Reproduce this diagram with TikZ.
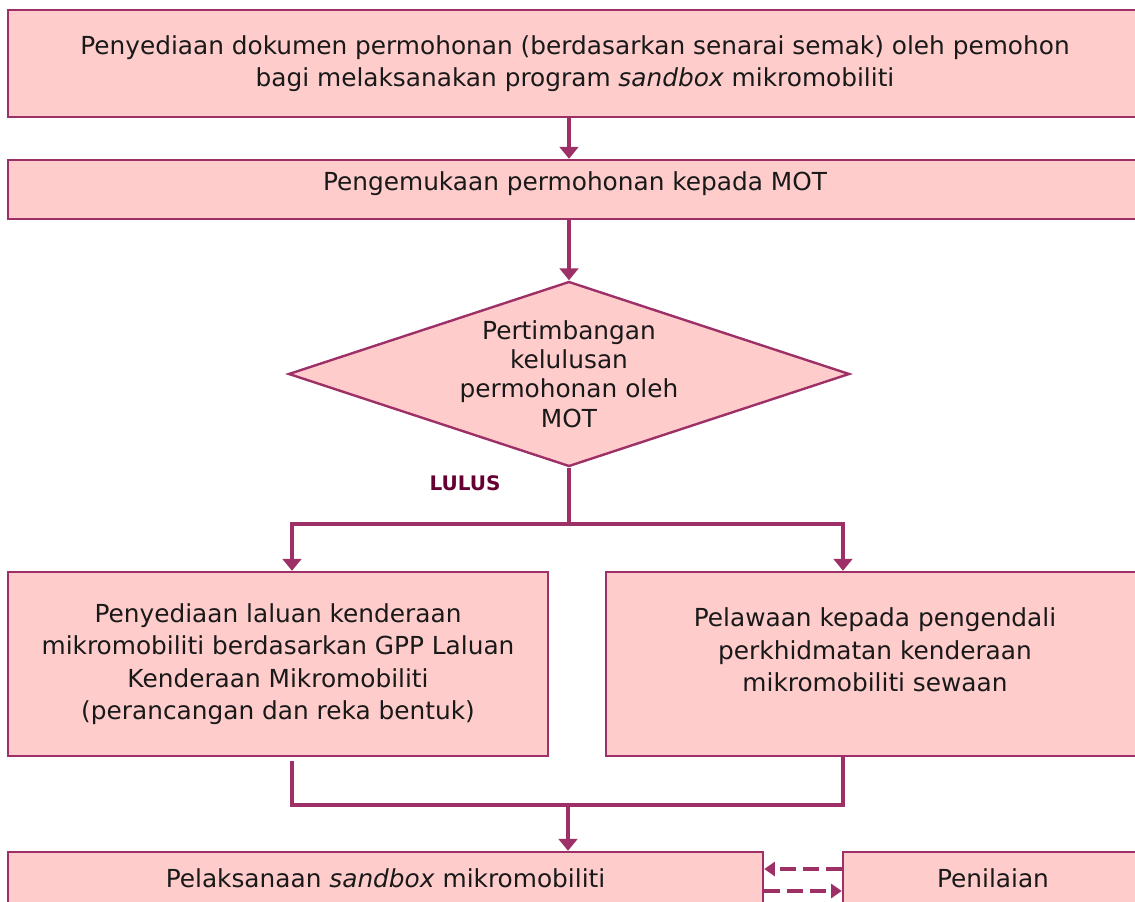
\documentclass[tikz,border=0pt]{standalone}
\usepackage{fontspec}
\setmainfont{DejaVu Sans}
\usetikzlibrary{shapes.geometric, arrows.meta}

\definecolor{plum}{RGB}{158,48,104}
\definecolor{plumDark}{RGB}{102,0,51}
\definecolor{blush}{RGB}{255,204,204}

\begin{document}
\begin{tikzpicture}[
                x=0.75pt, y=-0.75pt,
                % Box Styles
                stepBox/.style = {rectangle, draw=plum, fill=blush, line width=1.8pt, align=center, inner sep=0pt,
                                  text=black!90, font=\fontsize{18.6}{24.4}\selectfont},
                decisionBox/.style = {diamond, draw=plum, fill=blush, line width=1.8pt, inner sep=0pt},
                decisionText/.style = {align=center, text=black!90, font=\fontsize{18.6}{22}\selectfont},
                % Arrow Styles
                flowLine/.style = {-{Triangle[length=9pt, width=14pt]}, line width=2.7pt, draw=plum},
                joinLine/.style = {line width=2.7pt, draw=plum},
                loopLine/.style = {-{Triangle[length=8pt, width=10.5pt]}, line width=2.7pt, draw=plum, dash pattern=on 12pt off 5pt}
            ]
                \clip (0,0) rectangle (1135,902);

                % ==========================================
                % APPLICATION STAGE
                % ==========================================
                \node[stepBox, minimum width=850.5pt, minimum height=80.25pt] (Prep) at (575,63.5)
                    {Penyediaan dokumen permohonan (berdasarkan senarai semak) oleh pemohon \\ bagi melaksanakan program \textit{sandbox} mikromobiliti};
                \node[stepBox, minimum width=850.5pt, minimum height=44.25pt, text depth=12pt] (Submit) at (575,189.5)
                    {Pengemukaan permohonan kepada MOT};

                % ==========================================
                % DECISION
                % ==========================================
                \node[decisionBox, minimum width=420.75pt, minimum height=138.75pt] (Review) at (569,374) {};
                \node[decisionText] (ReviewTxt) at (Review.center)
                    {Pertimbangan \\ kelulusan \\ permohonan oleh \\ MOT};
                \node[plumDark, font=\fontsize{15}{17}\selectfont\bfseries] (Pass) at (465,483) {LULUS};

                % ==========================================
                % PARALLEL TASKS
                % ==========================================
                \node[stepBox, minimum width=405pt, minimum height=138pt] (Route) at (278,664)
                    {Penyediaan laluan kenderaan \\ mikromobiliti berdasarkan GPP Laluan \\ Kenderaan Mikromobiliti \\ (perancangan dan reka bentuk)};
                \node[stepBox, minimum width=403.5pt, minimum height=138pt, text depth=21pt] (Invite) at (875,664)
                    {Pelawaan kepada pengendali \\ perkhidmatan kenderaan \\ mikromobiliti sewaan};

                % ==========================================
                % IMPLEMENTATION
                % ==========================================
                \node[stepBox, minimum width=566.25pt, minimum height=39pt] (Run) at (385.5,878)
                    {Pelaksanaan \textit{sandbox} mikromobiliti};
                \node[stepBox, minimum width=225pt, minimum height=39pt] (Assess) at (993,878)
                    {Penilaian};

                % Junction points
                \coordinate (Split) at (569,524);
                \coordinate (Merge) at (568,805);

                % ==========================================
                % ROUTING LINES
                % ==========================================
                \draw[flowLine] (Prep.south -| Review.north) -- (Submit.north -| Review.north);
                \draw[flowLine] (Submit.south -| Review.north) -- (Review.north);
                \draw[joinLine] (Review.south) -- (Split);
                \draw[flowLine] (Split) -| ([xshift=10.5pt]Route.north);
                \draw[flowLine] (Split) -| ([xshift=-24pt]Invite.north);
                \draw[joinLine] ([xshift=10.5pt, yshift=-3pt]Route.south) |- (Merge) -| ([xshift=-24pt]Invite.south);
                \draw[flowLine] (Merge) -- (Merge |- Run.north);
                \draw[loopLine] ([yshift=6.75pt]Assess.west) -- ([yshift=6.75pt]Run.east);
                \draw[loopLine] ([yshift=-9.75pt]Run.east) -- ([yshift=-9.75pt]Assess.west);

            \end{tikzpicture}
\end{document}
